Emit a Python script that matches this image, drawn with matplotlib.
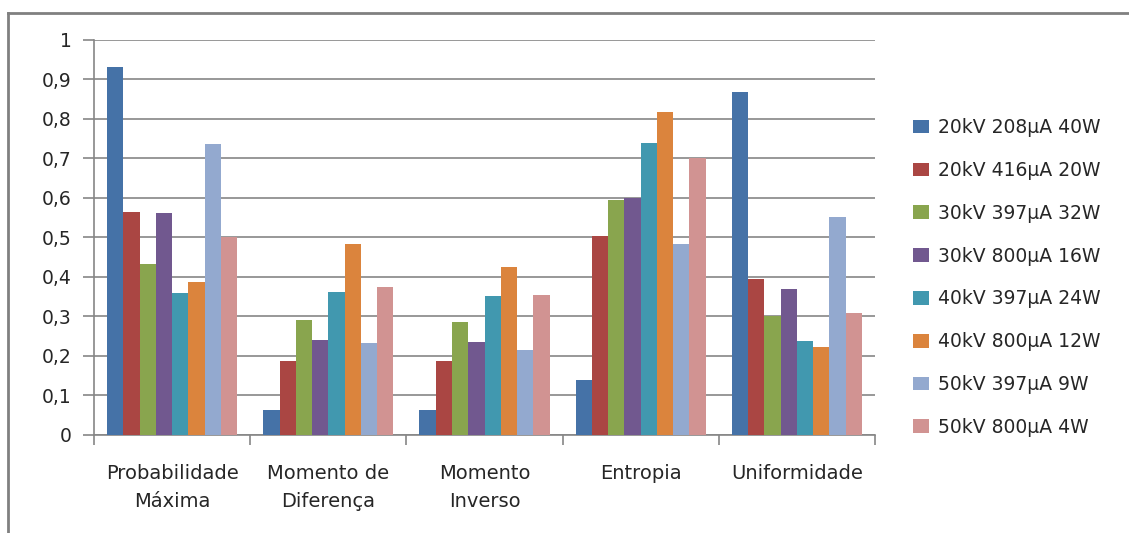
import matplotlib
matplotlib.use("Agg")

import matplotlib.pyplot as plt
from matplotlib.lines import Line2D
from matplotlib.ticker import FuncFormatter, FixedLocator
import numpy as np

# Texture features per acquisition setting
categories = ["Probabilidade\nMáxima", "Momento de\nDiferença", "Momento\nInverso",
              "Entropia", "Uniformidade"]
series_labels = ["20kV 208μA 40W", "20kV 416μA 20W", "30kV 397μA 32W", "30kV 800μA 16W",
                 "40kV 397μA 24W", "40kV 800μA 12W", "50kV 397μA 9W", "50kV 800μA 4W"]

s20_208 = [0.932, 0.063, 0.063, 0.138, 0.869]
s20_416 = [0.565, 0.187, 0.187, 0.505, 0.394]
s30_397 = [0.432, 0.290, 0.287, 0.594, 0.300]
s30_800 = [0.563, 0.241, 0.235, 0.601, 0.369]
s40_397 = [0.359, 0.361, 0.352, 0.738, 0.238]
s40_800 = [0.388, 0.483, 0.425, 0.818, 0.222]
s50_397 = [0.736, 0.232, 0.215, 0.483, 0.551]
s50_800 = [0.501, 0.375, 0.354, 0.700, 0.310]
series = [s20_208, s20_416, s30_397, s30_800, s40_397, s40_800, s50_397, s50_800]

colors = ["#4572A7", "#AA4643", "#89A54E", "#71588F",
          "#4198AF", "#DB843D", "#93A9CF", "#D19392"]

FONT = ["DejaVu Sans"]
GRID = "#868686"
TEXT = "#262626"

fig = plt.figure(figsize=(11.29, 5.33), dpi=100)
ax = fig.add_axes([0.0833, 0.1839, 0.6917, 0.7411])

x = np.arange(len(categories))
n = len(series)
bar_w = 0.833 / n
for j, (vals, col, lab) in enumerate(zip(series, colors, series_labels)):
    ax.bar(x + (j - (n - 1) / 2) * bar_w, vals, width=bar_w, color=col,
           label=lab, zorder=3, linewidth=0)

ax.set_xlim(-0.5, len(categories) - 0.5)
ax.set_ylim(0, 1)
ax.set_yticks(np.arange(0, 1.01, 0.1))
ax.yaxis.set_major_formatter(FuncFormatter(
    lambda v, _: "0" if abs(v) < 1e-9 else ("1" if abs(v - 1) < 1e-9 else f"{v:.1f}".replace(".", ","))))
ax.grid(axis="y", color=GRID, linewidth=1.2, zorder=0)

# category labels in the middle, tick marks on group boundaries
ax.set_xticks(x)
ax.set_xticklabels(categories, fontsize=14, family=FONT, color=TEXT, linespacing=1.6)
ax.tick_params(axis="x", length=0, pad=21)
ax.xaxis.set_minor_locator(FixedLocator(np.arange(-0.5, len(categories), 1.0)))
ax.tick_params(axis="x", which="minor", length=7, color=GRID, width=1.2)
ax.tick_params(axis="y", length=8, color=GRID, width=1.2, pad=8, labelsize=13.5,
               labelcolor=TEXT)
for t in ax.get_yticklabels():
    t.set_family(FONT)

for side in ["top", "right"]:
    ax.spines[side].set_visible(False)
ax.spines["left"].set_color(GRID)
ax.spines["bottom"].set_color(GRID)
ax.spines["left"].set_linewidth(1.2)
ax.spines["bottom"].set_linewidth(1.2)

leg = fig.legend(loc="upper left", bbox_to_anchor=(0.794, 0.81), frameon=False,
                 prop={"family": FONT, "size": 13.5}, labelspacing=1.27,
                 handlelength=0.85, handleheight=0.75, handletextpad=0.45)
for t in leg.get_texts():
    t.set_color(TEXT)

# outer chart frame (top and left edges)
fig.add_artist(Line2D([0.0075, 1.0], [0.975, 0.975], color="#808080", linewidth=2,
                      transform=fig.transFigure))
fig.add_artist(Line2D([0.0075, 0.0075], [0.0, 0.975], color="#808080", linewidth=2,
                      transform=fig.transFigure))

fig.savefig("out.png", dpi=100)
